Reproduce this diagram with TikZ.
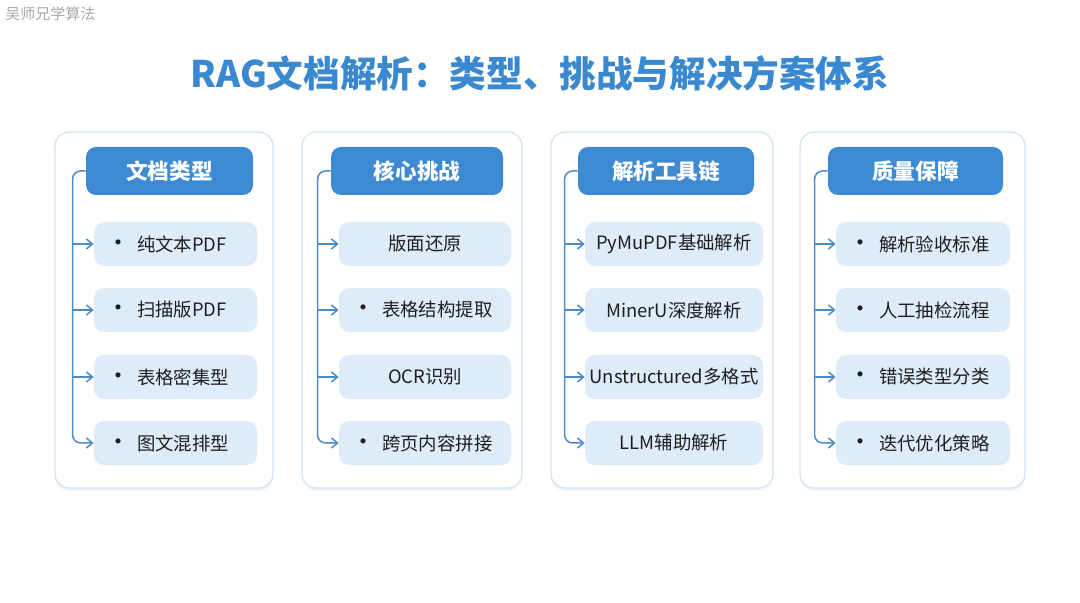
\documentclass[tikz,border=0pt]{standalone}
\usepackage{fontspec}
\setmainfont{Noto Sans CJK SC}
\usepackage{tikz}
\usetikzlibrary{arrows.meta,positioning,calc,shadows}
\definecolor{ragBlue}{HTML}{3A88D0}
\definecolor{ragHead}{HTML}{3D8AD2}
\definecolor{ragItem}{HTML}{DEECFA}
\definecolor{ragEdge}{HTML}{D3E3F2}
\definecolor{ragLink}{HTML}{4A8BC8}
\definecolor{ragText}{HTML}{1E1E1E}
\definecolor{ragMark}{HTML}{A8A8A8}

\begin{document}
\begin{tikzpicture}[x=0.5pt,y=-0.5pt,>={Straight Barb[length=3pt,width=5pt]},
  card/.style={draw=ragEdge, line width=0.6pt, fill=white, rounded corners=7pt,
    minimum height=178pt, inner sep=0pt,
    drop shadow={shadow xshift=0pt, shadow yshift=-1.5pt, opacity=.07, fill=ragBlue}},
  hdr/.style={fill=ragHead, rounded corners=5pt, minimum height=24pt, inner xsep=0pt,
    text=white, font=\fontsize{10.8}{12}\selectfont\bfseries},
  itm/.style={fill=ragItem, rounded corners=5pt, minimum height=22pt, inner xsep=0pt,
    text=ragText, font=\fontsize{9.2}{11}\selectfont},
  itmb/.style={itm, align=left, inner xsep=6pt},
  link/.style={ragLink, line width=0.75pt}]
\useasboundingbox (0,0) rectangle (1080,603);
\fill[white] (0,0) rectangle (1080,603);

% watermark and title
\node[anchor=west, inner sep=0pt, text=ragMark, font=\fontsize{7.5}{9}\selectfont] (mark) at (5,14) {吴师兄学算法};
\node[text=ragBlue, font=\fontsize{18.3}{21}\selectfont\bfseries] (title) at (540,73) {RAG文档解析：类型、挑战与解决方案体系};

% cards
\node[card, minimum width=109pt] (c1) at (164,310) {};
\node[card, minimum width=110pt] (c2) at (412,310) {};
\node[card, minimum width=111pt] (c3) at (662,310) {};
\node[card, minimum width=112.5pt] (c4) at (912.5,310) {};

% headers
\node[hdr, minimum width=83.5pt] (h1) at (169.5,171) {文档类型};
\node[hdr, minimum width=86pt] (h2) at (417,171) {核心挑战};
\node[hdr, minimum width=88pt] (h3) at (666,171) {解析工具链};
\node[hdr, minimum width=87.5pt] (h4) at (915.5,171) {质量保障};

% items: document types
\node[itmb, text width=69.5pt] (i1-1) at (175.5,244) {{\large•}\hspace{3.5pt}纯文本PDF};
\node[itmb, text width=69.5pt] (i1-2) at (175.5,310) {{\large•}\hspace{3.5pt}扫描版PDF};
\node[itmb, text width=69.5pt] (i1-3) at (175.5,377) {{\large•}\hspace{3.5pt}表格密集型};
\node[itmb, text width=69.5pt] (i1-4) at (175.5,443) {{\large•}\hspace{3.5pt}图文混排型};

% items: challenges
\node[itm, minimum width=86pt] (i2-1) at (425,244) {版面还原};
\node[itmb, text width=74pt] (i2-2) at (425,310) {{\large•}\hspace{3.5pt}表格结构提取};
\node[itm, minimum width=86pt] (i2-3) at (425,377) {OCR识别};
\node[itmb, text width=74pt] (i2-4) at (425,443) {{\large•}\hspace{3.5pt}跨页内容拼接};

% items: tool chain
\node[itm, minimum width=89pt] (i3-1) at (674,244) {PyMuPDF基础解析};
\node[itm, minimum width=89pt] (i3-2) at (674,310) {MinerU深度解析};
\node[itm, minimum width=89pt] (i3-3) at (674,377) {Unstructured多格式};
\node[itm, minimum width=89pt] (i3-4) at (674,443) {LLM辅助解析};

% items: quality
\node[itmb, text width=75pt] (i4-1) at (923,244) {{\large•}\hspace{3.5pt}解析验收标准};
\node[itmb, text width=75pt] (i4-2) at (923,310) {{\large•}\hspace{3.5pt}人工抽检流程};
\node[itmb, text width=75pt] (i4-3) at (923,377) {{\large•}\hspace{3.5pt}错误类型分类};
\node[itmb, text width=75pt] (i4-4) at (923,443) {{\large•}\hspace{3.5pt}迭代优化策略};

% connectors
\foreach \i in {1,...,4}{
  \coordinate (sp-\i) at ($(h\i.west)+(-13,0)$);
  \draw[link,->,rounded corners=4pt] (h\i.west) -- (sp-\i) |- (i\i-4.west);
  \foreach \k in {1,2,3}
    \draw[link,->] (sp-\i |- i\i-\k.west) -- (i\i-\k.west);
}
\end{tikzpicture}
\end{document}
